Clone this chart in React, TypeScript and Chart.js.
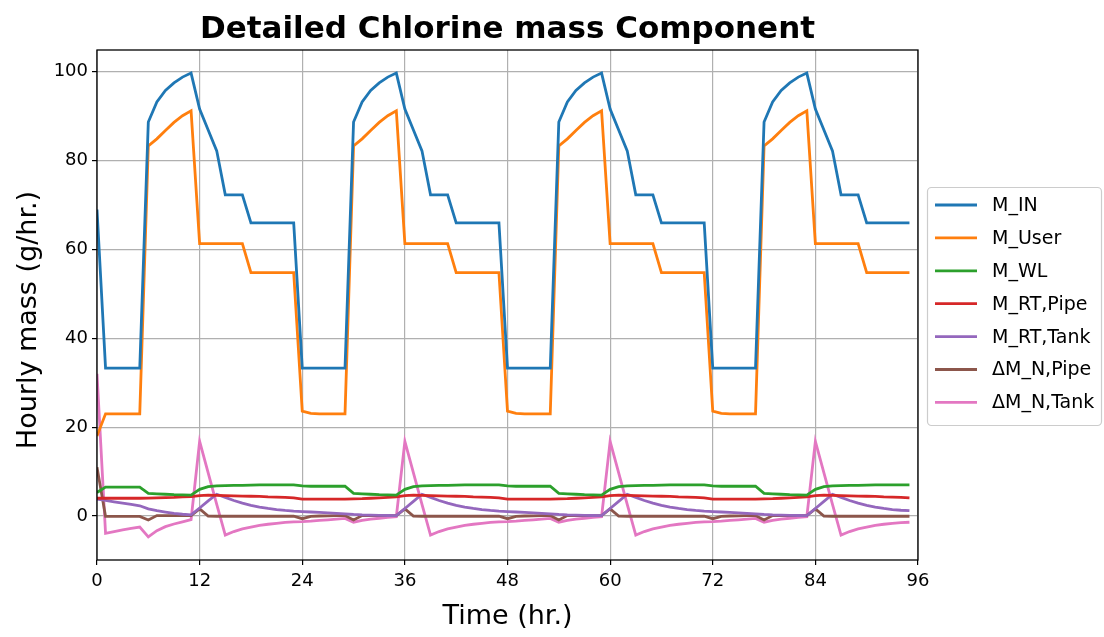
import React, { useEffect, useRef } from "react";
import { Chart, registerables } from "chart.js";

Chart.register(...registerables);

const hours = [
  0, 1, 2, 3, 4, 5, 6, 7, 8, 9, 10, 11, 12, 13, 14, 15, 16, 17, 18, 19, 20, 21, 22, 23,
  24, 25, 26, 27, 28, 29, 30, 31, 32, 33, 34, 35, 36, 37, 38, 39, 40, 41, 42, 43, 44, 45, 46, 47,
  48, 49, 50, 51, 52, 53, 54, 55, 56, 57, 58, 59, 60, 61, 62, 63, 64, 65, 66, 67, 68, 69, 70, 71,
  72, 73, 74, 75, 76, 77, 78, 79, 80, 81, 82, 83, 84, 85, 86, 87, 88, 89, 90, 91, 92, 93, 94, 95,
];

const mIn = [
  69, 33.3, 33.3, 33.3, 33.3, 33.3, 88.7, 93.2, 95.8, 97.5, 98.8, 99.7, 91.6, 86.9, 82.2, 72.3, 72.3, 72.3, 66, 66, 66, 66, 66, 66,
  33.3, 33.3, 33.3, 33.3, 33.3, 33.3, 88.7, 93.2, 95.8, 97.5, 98.8, 99.7, 91.6, 86.9, 82.2, 72.3, 72.3, 72.3, 66, 66, 66, 66, 66, 66,
  33.3, 33.3, 33.3, 33.3, 33.3, 33.3, 88.7, 93.2, 95.8, 97.5, 98.8, 99.7, 91.6, 86.9, 82.2, 72.3, 72.3, 72.3, 66, 66, 66, 66, 66, 66,
  33.3, 33.3, 33.3, 33.3, 33.3, 33.3, 88.7, 93.2, 95.8, 97.5, 98.8, 99.7, 91.6, 86.9, 82.2, 72.3, 72.3, 72.3, 66, 66, 66, 66, 66, 66,
];

const mUser = [
  18, 23, 23, 23, 23, 23, 83.3, 84.9, 86.8, 88.6, 90.1, 91.2, 61.3, 61.3, 61.3, 61.3, 61.3, 61.3, 54.8, 54.8, 54.8, 54.8, 54.8, 54.8,
  23.6, 23.1, 23, 23, 23, 23, 83.3, 84.9, 86.8, 88.6, 90.1, 91.2, 61.3, 61.3, 61.3, 61.3, 61.3, 61.3, 54.8, 54.8, 54.8, 54.8, 54.8, 54.8,
  23.6, 23.1, 23, 23, 23, 23, 83.3, 84.9, 86.8, 88.6, 90.1, 91.2, 61.3, 61.3, 61.3, 61.3, 61.3, 61.3, 54.8, 54.8, 54.8, 54.8, 54.8, 54.8,
  23.6, 23.1, 23, 23, 23, 23, 83.3, 84.9, 86.8, 88.6, 90.1, 91.2, 61.3, 61.3, 61.3, 61.3, 61.3, 61.3, 54.8, 54.8, 54.8, 54.8, 54.8, 54.8,
];

const mWL = [
  5.3, 6.5, 6.5, 6.5, 6.5, 6.5, 5.1, 5.0, 4.9, 4.8, 4.75, 4.7, 6.0, 6.6, 6.8, 6.85, 6.9, 6.9, 6.95, 7.0, 7.0, 7.0, 7.0, 7.0,
  6.8, 6.7, 6.7, 6.7, 6.7, 6.7, 5.1, 5.0, 4.9, 4.8, 4.75, 4.7, 6.0, 6.6, 6.8, 6.85, 6.9, 6.9, 6.95, 7.0, 7.0, 7.0, 7.0, 7.0,
  6.8, 6.7, 6.7, 6.7, 6.7, 6.7, 5.1, 5.0, 4.9, 4.8, 4.75, 4.7, 6.0, 6.6, 6.8, 6.85, 6.9, 6.9, 6.95, 7.0, 7.0, 7.0, 7.0, 7.0,
  6.8, 6.7, 6.7, 6.7, 6.7, 6.7, 5.1, 5.0, 4.9, 4.8, 4.75, 4.7, 6.0, 6.6, 6.8, 6.85, 6.9, 6.9, 6.95, 7.0, 7.0, 7.0, 7.0, 7.0,
];

const mRTPipe = [
  4.0, 4.0, 4.0, 4.0, 4.0, 4.0, 4.05, 4.1, 4.15, 4.2, 4.3, 4.35, 4.6, 4.7, 4.65, 4.6, 4.55, 4.5, 4.45, 4.4, 4.3, 4.25, 4.2, 4.1,
  3.8, 3.8, 3.8, 3.8, 3.8, 3.8, 3.85, 3.9, 4.0, 4.1, 4.2, 4.3, 4.6, 4.7, 4.65, 4.6, 4.55, 4.5, 4.45, 4.4, 4.3, 4.25, 4.2, 4.1,
  3.8, 3.8, 3.8, 3.8, 3.8, 3.8, 3.85, 3.9, 4.0, 4.1, 4.2, 4.3, 4.6, 4.7, 4.65, 4.6, 4.55, 4.5, 4.45, 4.4, 4.3, 4.25, 4.2, 4.1,
  3.8, 3.8, 3.8, 3.8, 3.8, 3.8, 3.85, 3.9, 4.0, 4.1, 4.2, 4.3, 4.6, 4.7, 4.65, 4.6, 4.55, 4.5, 4.45, 4.4, 4.3, 4.25, 4.2, 4.1,
];

const mRTTank = [
  3.8, 3.5, 3.2, 2.9, 2.6, 2.3, 1.6, 1.2, 0.9, 0.6, 0.4, 0.25, 1.8, 3.4, 4.9, 4.2, 3.5, 2.9, 2.4, 2.0, 1.7, 1.45, 1.25, 1.1,
  1.0, 0.9, 0.8, 0.7, 0.6, 0.5, 0.35, 0.25, 0.2, 0.15, 0.12, 0.1, 1.7, 3.3, 4.9, 4.2, 3.5, 2.9, 2.4, 2.0, 1.7, 1.45, 1.25, 1.1,
  1.0, 0.9, 0.8, 0.7, 0.6, 0.5, 0.35, 0.25, 0.2, 0.15, 0.12, 0.1, 1.7, 3.3, 4.9, 4.2, 3.5, 2.9, 2.4, 2.0, 1.7, 1.45, 1.25, 1.1,
  1.0, 0.9, 0.8, 0.7, 0.6, 0.5, 0.35, 0.25, 0.2, 0.15, 0.12, 0.1, 1.7, 3.3, 4.9, 4.2, 3.5, 2.9, 2.4, 2.0, 1.7, 1.45, 1.3, 1.2,
];

const dNPipe = [
  11, -0.1, -0.1, -0.1, -0.1, -0.1, -0.9, 0.1, 0.1, 0.1, 0.1, 0.1, 1.6, 0.0, -0.05, -0.05, -0.05, -0.05, -0.05, -0.05, -0.05, -0.05, -0.05, -0.05,
  -0.6, -0.1, 0.0, 0.05, 0.1, 0.1, -0.9, 0.1, 0.1, 0.1, 0.1, 0.1, 1.6, 0.0, -0.05, -0.05, -0.05, -0.05, -0.05, -0.05, -0.05, -0.05, -0.05, -0.05,
  -0.6, -0.1, 0.0, 0.05, 0.1, 0.1, -0.9, 0.1, 0.1, 0.1, 0.1, 0.1, 1.6, 0.0, -0.05, -0.05, -0.05, -0.05, -0.05, -0.05, -0.05, -0.05, -0.05, -0.05,
  -0.6, -0.1, 0.0, 0.05, 0.1, 0.1, -0.9, 0.1, 0.1, 0.1, 0.1, 0.1, 1.6, 0.0, -0.05, -0.05, -0.05, -0.05, -0.05, -0.05, -0.05, -0.05, -0.05, -0.05,
];

const dNTank = [
  32, -3.9, -3.5, -3.1, -2.8, -2.5, -4.7, -3.3, -2.4, -1.8, -1.3, -0.8, 16.8, 9.7, 2.6, -4.3, -3.5, -2.9, -2.5, -2.1, -1.85, -1.65, -1.45, -1.3,
  -1.25, -1.15, -1.0, -0.85, -0.7, -0.55, -1.4, -1.0, -0.7, -0.5, -0.3, -0.15, 16.8, 9.7, 2.6, -4.3, -3.5, -2.9, -2.5, -2.1, -1.85, -1.65, -1.45, -1.3,
  -1.25, -1.15, -1.0, -0.85, -0.7, -0.55, -1.4, -1.0, -0.7, -0.5, -0.3, -0.15, 16.8, 9.7, 2.6, -4.3, -3.5, -2.9, -2.5, -2.1, -1.85, -1.65, -1.45, -1.3,
  -1.25, -1.15, -1.0, -0.85, -0.7, -0.55, -1.4, -1.0, -0.7, -0.5, -0.3, -0.15, 16.8, 9.7, 2.6, -4.3, -3.5, -2.9, -2.5, -2.1, -1.85, -1.65, -1.5, -1.4,
];

const seriesNames = ["M_IN", "M_User", "M_WL", "M_RT,Pipe", "M_RT,Tank", "ΔM_N,Pipe", "ΔM_N,Tank"];
const seriesValues = [mIn, mUser, mWL, mRTPipe, mRTTank, dNPipe, dNTank];
const seriesColors = ["#1f77b4", "#ff7f0e", "#2ca02c", "#d62728", "#9467bd", "#8c564b", "#e377c2"];

const xTicks = [0, 12, 24, 36, 48, 60, 72, 84, 96];
const yTicks = [0, 20, 40, 60, 80, 100];

const titleText = "Detailed Chlorine mass Component";
const xLabel = "Time (hr.)";
const yLabel = "Hourly mass (g/hr.)";

const FONT = '"DejaVu Sans", sans-serif';

const decorPlugin = {
  id: "decor",
  afterDraw(chart: any) {
    const ctx = chart.ctx as CanvasRenderingContext2D;
    const a = chart.chartArea;
    ctx.save();
    // frame
    ctx.strokeStyle = "#000";
    ctx.lineWidth = 1.3;
    ctx.strokeRect(a.left, a.top, a.right - a.left, a.bottom - a.top);
    // title
    ctx.fillStyle = "#000";
    ctx.textAlign = "center";
    ctx.textBaseline = "alphabetic";
    ctx.font = `bold 31px ${FONT}`;
    ctx.fillText(titleText, (a.left + a.right) / 2, 38);
    // x label
    ctx.font = `27px ${FONT}`;
    ctx.fillText(xLabel, (a.left + a.right) / 2, 624);
    // y label
    ctx.save();
    ctx.translate(36, (a.top + a.bottom) / 2 + 15);
    ctx.rotate(-Math.PI / 2);
    ctx.fillText(yLabel, 0, 0);
    ctx.restore();
    // legend
    const lx = 927.5, ly = 187.5, lw = 174, lh = 238;
    ctx.beginPath();
    ctx.roundRect(lx, ly, lw, lh, 4);
    ctx.fillStyle = "rgba(255,255,255,0.8)";
    ctx.fill();
    ctx.strokeStyle = "#cccccc";
    ctx.lineWidth = 1.2;
    ctx.stroke();
    ctx.font = `19px ${FONT}`;
    ctx.textAlign = "left";
    ctx.textBaseline = "middle";
    seriesNames.forEach((name, i) => {
      const y = 205 + i * 32.9;
      ctx.beginPath();
      ctx.moveTo(935, y);
      ctx.lineTo(977, y);
      ctx.strokeStyle = seriesColors[i];
      ctx.lineWidth = 2.8;
      ctx.stroke();
      ctx.fillStyle = "#000";
      ctx.fillText(name, 992, y + 1);
    });
    ctx.restore();
  },
};

export default function App() {
  const canvasRef = useRef<HTMLCanvasElement | null>(null);

  useEffect(() => {
    if (!canvasRef.current) return;
    const datasets = seriesNames.map((name, i) => ({
      label: name,
      data: hours.map((h, j) => ({ x: h, y: seriesValues[i][j] })),
      borderColor: seriesColors[i],
      backgroundColor: seriesColors[i],
      borderWidth: 2.8,
      pointRadius: 0,
      tension: 0,
      fill: false,
    }));
    const chart = new Chart(canvasRef.current, {
      type: "line",
      data: { datasets },
      options: {
        animation: false,
        responsive: false,
        devicePixelRatio: 1,
        layout: { padding: { top: 50, right: 186, left: 0, bottom: 0 } },
        plugins: {
          legend: { display: false },
          title: { display: false },
          tooltip: { enabled: false },
        },
        scales: {
          x: {
            type: "linear",
            min: 0,
            max: 96,
            afterBuildTicks: (s: any) => {
              s.ticks = xTicks.map((v) => ({ value: v }));
            },
            afterFit: (s: any) => {
              s.height = 77;
            },
            ticks: {
              autoSkip: false,
              maxRotation: 0,
              padding: 6,
              color: "#000",
              font: { family: FONT, size: 18 },
            },
            grid: {
              color: "#b0b0b0",
              lineWidth: 1.2,
              tickColor: "#000",
              tickLength: 5,
              tickWidth: 1.2,
            },
            border: { display: false },
          },
          y: {
            type: "linear",
            min: -9.9,
            max: 104.9,
            afterBuildTicks: (s: any) => {
              s.ticks = yTicks.map((v) => ({ value: v }));
            },
            afterFit: (s: any) => {
              s.width = 97;
            },
            ticks: {
              padding: 4,
              color: "#000",
              font: { family: FONT, size: 18 },
            },
            grid: {
              color: "#b0b0b0",
              lineWidth: 1.2,
              tickColor: "#000",
              tickLength: 5,
              tickWidth: 1.2,
            },
            border: { display: false },
          },
        },
      },
      plugins: [decorPlugin],
    });
    return () => chart.destroy();
  }, []);

  return (
    <div style={{ position: "fixed", left: 0, top: 0, width: 1104, height: 637, background: "#fff" }}>
      <canvas ref={canvasRef} width={1104} height={637} />
    </div>
  );
}
